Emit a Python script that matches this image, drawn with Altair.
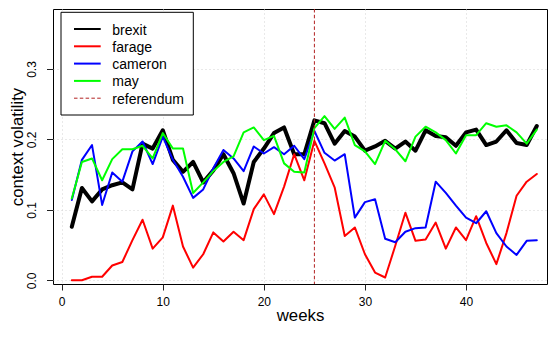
import altair as alt
import pandas as pd

weeks = list(range(1, 48))
brexit = [0.076, 0.131, 0.112, 0.129, 0.135, 0.139, 0.129, 0.194, 0.187, 0.213,
          0.171, 0.154, 0.168, 0.139, 0.156, 0.179, 0.152, 0.109, 0.168, 0.187,
          0.209, 0.217, 0.179, 0.179, 0.227, 0.223, 0.194, 0.212, 0.204, 0.184,
          0.190, 0.198, 0.187, 0.197, 0.184, 0.213, 0.205, 0.203, 0.191, 0.210,
          0.214, 0.192, 0.197, 0.213, 0.195, 0.192, 0.219]
farage = [0.000, 0.000, 0.005, 0.005, 0.021, 0.026, 0.057, 0.086, 0.045, 0.061,
          0.106, 0.048, 0.018, 0.037, 0.068, 0.055, 0.069, 0.057, 0.101, 0.122,
          0.094, 0.133, 0.179, 0.142, 0.198, 0.166, 0.132, 0.063, 0.075, 0.037,
          0.011, 0.004, 0.049, 0.096, 0.056, 0.058, 0.082, 0.045, 0.075, 0.057,
          0.091, 0.053, 0.023, 0.067, 0.120, 0.140, 0.151]
cameron = [0.114, 0.171, 0.192, 0.107, 0.153, 0.140, 0.183, 0.197, 0.165, 0.204,
           0.171, 0.147, 0.117, 0.129, 0.159, 0.185, 0.173, 0.155, 0.190, 0.180,
           0.189, 0.179, 0.191, 0.172, 0.212, 0.181, 0.170, 0.179, 0.089, 0.111,
           0.115, 0.059, 0.054, 0.069, 0.074, 0.075, 0.140, 0.124, 0.106, 0.089,
           0.081, 0.098, 0.067, 0.048, 0.036, 0.056, 0.057]
may = [0.116, 0.168, 0.173, 0.142, 0.172, 0.186, 0.186, 0.191, 0.173, 0.209,
       0.187, 0.187, 0.124, 0.139, 0.155, 0.168, 0.176, 0.210, 0.217, 0.199,
       0.205, 0.166, 0.154, 0.153, 0.216, 0.233, 0.215, 0.231, 0.192, 0.183,
       0.165, 0.198, 0.186, 0.169, 0.204, 0.218, 0.210, 0.199, 0.180, 0.206,
       0.206, 0.223, 0.218, 0.220, 0.210, 0.194, 0.214]
referendum_week = 25

series_names = ["brexit", "farage", "cameron", "may"]
series_values = [brexit, farage, cameron, may]
series_colors = ["#000000", "#FF0000", "#0000FF", "#00FF00"]
series_widths = [4, 2, 2, 2]
ref_label = "referendum"
ref_color = "#B22222"
ref_dash = [3.5, 2.3]

x_ticks = [0, 10, 20, 30, 40]
y_ticks = [0.0, 0.1, 0.2, 0.3]

FONT = "Liberation Sans"
W, H = 494, 275

xscale = alt.Scale(domain=[-0.86, 48.01], nice=False, zero=False)
yscale = alt.Scale(domain=[-0.00525, 0.38515], nice=False, zero=False)

x_enc = alt.X(
    "week:Q", scale=xscale,
    axis=alt.Axis(values=x_ticks, title="weeks", domain=False, tickSize=6,
                  tickColor="#222222", tickWidth=1, labelFontSize=12, labelFont=FONT,
                  labelColor="black", labelPadding=15.5, labelBaseline="alphabetic",
                  labelFlush=False, labelOverlap=False, grid=True, gridColor="#D3D3D3",
                  gridDash=[1, 3], gridWidth=1, titleFontSize=16.8, titleFont=FONT,
                  titleFontWeight="normal", titleColor="black", titleY=36.5,
                  titleBaseline="alphabetic"),
)
y_enc = alt.Y(
    "value:Q", scale=yscale,
    axis=alt.Axis(values=y_ticks, format=".1f", title="context volatility", domain=False,
                  tickSize=6.5, tickColor="#222222", tickWidth=1, labelFontSize=12,
                  labelFont=FONT, labelColor="black", labelAngle=270, labelAlign="center",
                  labelBaseline="alphabetic", labelPadding=11.5, labelFlush=False,
                  labelOverlap=False, grid=True, gridColor="#D3D3D3", gridDash=[1, 3],
                  gridWidth=1, titleFontSize=16.8, titleFont=FONT, titleFontWeight="normal",
                  titleColor="black", titleAngle=270, titleX=-31, titleAlign="center",
                  titleBaseline="alphabetic"),
)

layers = []
for name, vals, col, w in zip(series_names, series_values, series_colors, series_widths):
    df = pd.DataFrame({"week": weeks, "value": vals, "series": name})
    layers.append(
        alt.Chart(df).mark_line(color=col, strokeWidth=w, strokeCap="round",
                                strokeJoin="round").encode(x=x_enc, y=y_enc)
    )

ref_df = pd.DataFrame({"week": [referendum_week]})
layers.append(
    alt.Chart(ref_df).mark_rule(color=ref_color, strokeWidth=1, strokeDash=ref_dash)
    .encode(x=x_enc)
)

# legend box
box_df = pd.DataFrame({"k": [0]})
layers.append(
    alt.Chart(box_df).mark_rect(fill="white", stroke="black", strokeWidth=1)
    .encode(x=alt.value(8), x2=alt.value(140.3), y=alt.value(3.3), y2=alt.value(106))
)

leg_labels = series_names + [ref_label]
leg_colors = series_colors + [ref_color]
leg_widths = [2, 2, 2, 2, 1]
leg_dashes = [None, None, None, None, ref_dash]
row0, row_step = 20, 17.3
for i, (lab, col, lw, dash) in enumerate(zip(leg_labels, leg_colors, leg_widths, leg_dashes)):
    yy = row0 + i * row_step
    d = pd.DataFrame({"label": [lab]})
    kw = dict(color=col, strokeWidth=lw)
    if dash:
        kw["strokeDash"] = dash
    layers.append(
        alt.Chart(d).mark_rule(**kw)
        .encode(x=alt.value(21), x2=alt.value(47.7), y=alt.value(yy))
    )
    layers.append(
        alt.Chart(d).mark_text(align="left", baseline="alphabetic", fontSize=14,
                               font=FONT, color="black")
        .encode(x=alt.value(59.3), y=alt.value(yy + 5.5), text="label:N")
    )

chart = alt.layer(*layers).properties(
    width=W, height=H,
    padding={"left": 45, "top": 1, "right": 1, "bottom": 41},
    autosize=alt.AutoSizeParams(type="none"),
    background="white",
).configure_view(stroke="black", strokeWidth=1)

chart.save("out.html", embed_options={"renderer": "svg", "actions": False})
